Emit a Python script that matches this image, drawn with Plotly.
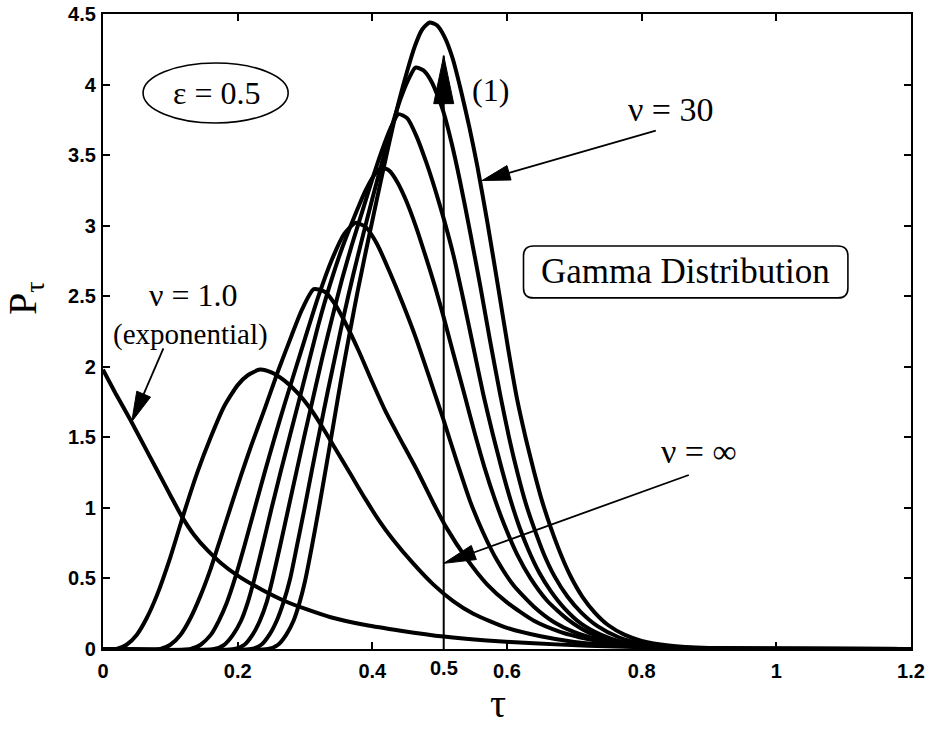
import plotly.graph_objects as go

# ---------------- data ----------------
# nu = 1.0 (exponential)
tau_nu1 = [0, 0.02, 0.04, 0.06, 0.08, 0.1, 0.117, 0.135, 0.155, 0.175, 0.2, 0.236, 0.27, 0.303, 0.338, 0.39, 0.442, 0.506, 0.57, 0.64, 0.72, 0.8, 0.9, 1.0, 1.2]
p_nu1 = [1.98, 1.8, 1.63, 1.45, 1.27, 1.09, 0.94, 0.81, 0.7, 0.61, 0.52, 0.42, 0.34, 0.28, 0.225, 0.17, 0.13, 0.088, 0.06, 0.04, 0.023, 0.013, 0.006, 0.003, 0.0005]

tau_c2 = [0, 0.02, 0.035, 0.05, 0.065, 0.08, 0.1, 0.12, 0.14, 0.16, 0.18, 0.2, 0.215, 0.233, 0.25, 0.27, 0.29, 0.31, 0.33, 0.35, 0.37, 0.39, 0.41, 0.43, 0.46, 0.49, 0.52, 0.55, 0.6, 0.65, 0.7, 0.75, 0.8, 0.9, 1.0, 1.2]
p_c2 = [0, 0, 0.03, 0.1, 0.22, 0.38, 0.65, 0.96, 1.25, 1.5, 1.72, 1.87, 1.94, 1.98, 1.96, 1.9, 1.81, 1.69, 1.54, 1.38, 1.22, 1.06, 0.91, 0.78, 0.61, 0.46, 0.34, 0.25, 0.15, 0.09, 0.05, 0.028, 0.015, 0.004, 0.001, 0]

tau_c3 = [0, 0.085, 0.1, 0.115, 0.13, 0.145, 0.16, 0.175, 0.19, 0.205, 0.22, 0.24, 0.26, 0.28, 0.295, 0.313, 0.33, 0.345, 0.36, 0.38, 0.4, 0.42, 0.44, 0.466, 0.49, 0.51, 0.54, 0.57, 0.6, 0.64, 0.68, 0.72, 0.76, 0.8, 0.9, 1.0, 1.2]
p_c3 = [0, 0, 0.03, 0.1, 0.22, 0.38, 0.57, 0.79, 1.01, 1.23, 1.44, 1.7, 1.97, 2.22, 2.4, 2.55, 2.53, 2.44, 2.31, 2.11, 1.89, 1.68, 1.5, 1.27, 1.04, 0.86, 0.64, 0.46, 0.33, 0.2, 0.12, 0.07, 0.035, 0.016, 0.003, 0.001, 0]

tau_c4 = [0, 0.13, 0.145, 0.16, 0.172, 0.184, 0.196, 0.21, 0.225, 0.24, 0.255, 0.27, 0.285, 0.3, 0.32, 0.34, 0.358, 0.375, 0.39, 0.407, 0.425, 0.445, 0.465, 0.485, 0.506, 0.526, 0.545, 0.565, 0.585, 0.61, 0.64, 0.67, 0.7, 0.74, 0.8, 0.9, 1.0, 1.2]
p_c4 = [0, 0, 0.03, 0.1, 0.2, 0.33, 0.5, 0.73, 0.99, 1.25, 1.5, 1.74, 1.97, 2.2, 2.5, 2.76, 2.94, 3.02, 2.99, 2.87, 2.68, 2.45, 2.2, 1.92, 1.62, 1.32, 1.05, 0.82, 0.63, 0.45, 0.3, 0.19, 0.12, 0.065, 0.025, 0.004, 0.001, 0]

tau_c5 = [0, 0.165, 0.18, 0.193, 0.205, 0.215, 0.225, 0.237, 0.25, 0.263, 0.277, 0.29, 0.305, 0.32, 0.337, 0.355, 0.373, 0.39, 0.403, 0.414, 0.425, 0.437, 0.45, 0.465, 0.48, 0.493, 0.506, 0.52, 0.537, 0.552, 0.567, 0.582, 0.596, 0.615, 0.635, 0.66, 0.69, 0.72, 0.76, 0.8, 0.85, 0.95, 1.2]
p_c5 = [0, 0, 0.03, 0.1, 0.2, 0.33, 0.5, 0.73, 0.99, 1.24, 1.5, 1.74, 2.02, 2.3, 2.58, 2.84, 3.06, 3.25, 3.36, 3.41, 3.39, 3.31, 3.18, 2.99, 2.77, 2.57, 2.35, 2.1, 1.8, 1.53, 1.28, 1.06, 0.88, 0.67, 0.5, 0.34, 0.21, 0.12, 0.055, 0.024, 0.008, 0.001, 0]

tau_c6 = [0, 0.195, 0.21, 0.222, 0.233, 0.243, 0.252, 0.263, 0.275, 0.287, 0.3, 0.313, 0.326, 0.34, 0.355, 0.37, 0.385, 0.4, 0.414, 0.427, 0.439, 0.452, 0.465, 0.48, 0.493, 0.506, 0.52, 0.535, 0.55, 0.565, 0.579, 0.592, 0.605, 0.618, 0.632, 0.648, 0.665, 0.685, 0.71, 0.74, 0.77, 0.8, 0.85, 0.9, 1.0, 1.2]
p_c6 = [0, 0, 0.03, 0.1, 0.2, 0.33, 0.5, 0.73, 0.99, 1.25, 1.53, 1.8, 2.07, 2.34, 2.62, 2.87, 3.1, 3.33, 3.53, 3.69, 3.79, 3.76, 3.64, 3.45, 3.26, 3.05, 2.8, 2.48, 2.14, 1.8, 1.52, 1.28, 1.06, 0.87, 0.7, 0.54, 0.41, 0.29, 0.18, 0.1, 0.05, 0.026, 0.008, 0.003, 0.0005, 0]

tau_c7 = [0, 0.22, 0.235, 0.247, 0.258, 0.268, 0.278, 0.288, 0.299, 0.31, 0.322, 0.334, 0.346, 0.358, 0.371, 0.385, 0.4, 0.415, 0.43, 0.442, 0.453, 0.464, 0.476, 0.488, 0.497, 0.506, 0.518, 0.53, 0.545, 0.56, 0.575, 0.59, 0.603, 0.616, 0.628, 0.64, 0.655, 0.67, 0.69, 0.71, 0.735, 0.765, 0.8, 0.85, 0.9, 1.0, 1.2]
p_c7 = [0, 0, 0.03, 0.1, 0.2, 0.33, 0.5, 0.73, 0.99, 1.26, 1.55, 1.83, 2.1, 2.37, 2.64, 2.91, 3.19, 3.46, 3.72, 3.9, 4.03, 4.12, 4.1, 4.02, 3.92, 3.8, 3.58, 3.32, 2.96, 2.58, 2.18, 1.8, 1.5, 1.24, 1.03, 0.86, 0.67, 0.52, 0.37, 0.26, 0.16, 0.085, 0.038, 0.012, 0.004, 0.0005, 0]

# nu = 30
tau_nu30 = [0, 0.245, 0.26, 0.272, 0.283, 0.292, 0.3, 0.31, 0.32, 0.331, 0.3425, 0.354, 0.366, 0.378, 0.39, 0.402, 0.415, 0.428, 0.44, 0.452, 0.463, 0.474, 0.485, 0.496, 0.507, 0.519, 0.531, 0.544, 0.556, 0.571, 0.587, 0.602, 0.615, 0.628, 0.64, 0.652, 0.665, 0.68, 0.695, 0.712, 0.73, 0.75, 0.775, 0.8, 0.84, 0.9, 1.0, 1.2]
p_nu30 = [0, 0, 0.03, 0.1, 0.2, 0.33, 0.48, 0.72, 0.98, 1.28, 1.6, 1.92, 2.23, 2.53, 2.81, 3.08, 3.37, 3.65, 3.89, 4.1, 4.27, 4.39, 4.44, 4.42, 4.34, 4.19, 3.97, 3.7, 3.42, 3.02, 2.56, 2.12, 1.77, 1.49, 1.26, 1.05, 0.86, 0.67, 0.51, 0.37, 0.26, 0.17, 0.1, 0.058, 0.025, 0.007, 0.001, 0]

# nu = infinity (delta at the mean)
tau_inf = [0.506, 0.506]
p_inf = [0.0, 4.205]

x_ticks = [0, 0.2, 0.4, 0.6, 0.8, 1, 1.2]
x_ticktext = ["0", "0.2", "0.4", "0.6", "0.8", "1", "1.2"]
y_ticks = [0, 0.5, 1, 1.5, 2, 2.5, 3, 3.5, 4, 4.5]
y_ticktext = ["0", "0.5", "1", "1.5", "2", "2.5", "3", "3.5", "4", "4.5"]

# ---------------- figure ----------------
W, H = 930, 729
ML, MR, MT, MB = 103, 19, 14, 80
XR = [0, 1.2]
YR = [0, 4.5]
SX = (W - ML - MR) / (XR[1] - XR[0])
SY = (H - MT - MB) / (YR[1] - YR[0])

SERIF = "Liberation Serif, Times New Roman, serif"
SANS = "Liberation Sans, Arial, sans-serif"

fig = go.Figure()
curves = [(tau_nu1, p_nu1), (tau_c2, p_c2), (tau_c3, p_c3), (tau_c4, p_c4),
          (tau_c5, p_c5), (tau_c6, p_c6), (tau_c7, p_c7), (tau_nu30, p_nu30)]
for tx, py in curves:
    fig.add_trace(go.Scatter(x=tx, y=py, mode="lines",
                             line=dict(color="black", width=4, shape="spline", smoothing=0.6),
                             showlegend=False, hoverinfo="skip"))
fig.add_trace(go.Scatter(x=tau_inf, y=p_inf, mode="lines",
                         line=dict(color="black", width=2), showlegend=False, hoverinfo="skip"))

shapes = []


def arrow(tail, tip, L, Wd, lw=1.8, shaft=True):
    dx = (tip[0] - tail[0]) * SX
    dy = (tip[1] - tail[1]) * SY
    n = (dx * dx + dy * dy) ** 0.5
    ux, uy = dx / n, dy / n
    bx = tip[0] * SX - ux * L
    by = tip[1] * SY - uy * L
    nx, ny = -uy, ux
    p1 = ((bx + nx * Wd / 2) / SX, (by + ny * Wd / 2) / SY)
    p2 = ((bx - nx * Wd / 2) / SX, (by - ny * Wd / 2) / SY)
    if shaft:
        shapes.append(dict(type="line", xref="x", yref="y", x0=tail[0], y0=tail[1],
                           x1=bx / SX, y1=by / SY, line=dict(color="black", width=lw)))
    shapes.append(dict(type="path", xref="x", yref="y",
                       path=f"M {tip[0]},{tip[1]} L {p1[0]},{p1[1]} L {p2[0]},{p2[1]} Z",
                       fillcolor="black", line=dict(color="black", width=1)))


# arrows
arrow((0.0897, 2.13), (0.0427, 1.611), 30, 15)
arrow((0.821, 3.673), (0.563, 3.32), 28, 15)
arrow((0.870, 1.233), (0.506, 0.607), 32, 15)
arrow((tau_inf[0], 3.5), (tau_inf[0], p_inf[1]), 48, 20, shaft=False)

# ellipse around epsilon
shapes.append(dict(type="circle", xref="x", yref="y", x0=0.0595, x1=0.275, y0=3.728, y1=4.153,
                   line=dict(color="black", width=1.6)))

# rounded box around "Gamma Distribution"
bx0, bx1, by0, by1 = 0.6245, 1.1063, 2.488, 2.856
rx, ry = 10 / SX, 10 / SY
path = (f"M {bx0 + rx},{by1} L {bx1 - rx},{by1} Q {bx1},{by1} {bx1},{by1 - ry} "
        f"L {bx1},{by0 + ry} Q {bx1},{by0} {bx1 - rx},{by0} L {bx0 + rx},{by0} "
        f"Q {bx0},{by0} {bx0},{by0 + ry} L {bx0},{by1 - ry} Q {bx0},{by1} {bx0 + rx},{by1} Z")
shapes.append(dict(type="path", xref="x", yref="y", path=path, line=dict(color="black", width=1.6)))

annotations = [
    dict(x=0.169, y=3.94, text="ε = 0.5", font=dict(size=32)),
    dict(x=0.134, y=2.509, text="ν = 1.0", font=dict(size=32)),
    dict(x=0.130, y=2.232, text="(exponential)", font=dict(size=29)),
    dict(x=0.575, y=3.96, text="(1)", font=dict(size=32)),
    dict(x=0.843, y=3.82, text="ν = 30", font=dict(size=34)),
    dict(x=0.865, y=2.672, text="Gamma Distribution", font=dict(size=35)),
    dict(x=0.885, y=1.398, text="ν = ∞", font=dict(size=34)),
]
for a in annotations:
    a.update(xref="x", yref="y", showarrow=False, xanchor="center", yanchor="middle")
    a["font"].update(family=SERIF, color="black")

# extra tick label at the delta position
annotations.append(dict(x=tau_inf[0], xref="x", y=-19 / (H - MT - MB), yref="paper", text="0.5",
                        showarrow=False, xanchor="center", yanchor="middle",
                        font=dict(family=SANS, size=20, color="black", weight="bold")))
# axis titles
annotations.append(dict(x=(498 - ML) / SX, xref="x", y=(H - MB - 728) / (H - MT - MB), yref="paper",
                        text="τ", showarrow=False, xanchor="center", yanchor="bottom",
                        font=dict(family=SERIF, size=40, color="black")))
annotations.append(dict(x=(25 - ML) / (W - ML - MR), xref="paper", y=(H - MB - 298) / (H - MT - MB),
                        yref="paper", text="P<sub>τ</sub>", textangle=-90, showarrow=False,
                        xanchor="center", yanchor="middle",
                        font=dict(family=SERIF, size=40, color="black")))

axis_common = dict(showgrid=False, zeroline=False, showline=True, linecolor="black", linewidth=2.2,
                   mirror="ticks", ticks="inside", ticklen=7, tickwidth=1.5, tickcolor="black",
                   automargin=False,
                   tickfont=dict(family=SANS, size=20, color="black", weight="bold"))

fig.update_layout(
    width=W, height=H,
    margin=dict(l=ML, r=MR, t=MT, b=MB, pad=0, autoexpand=False),
    paper_bgcolor="white", plot_bgcolor="white",
    xaxis=dict(range=XR, tickvals=x_ticks, ticktext=x_ticktext, ticklabelstandoff=3, **axis_common),
    yaxis=dict(range=YR, tickvals=y_ticks, ticktext=y_ticktext, ticklabelstandoff=1, **axis_common),
    shapes=shapes, annotations=annotations, showlegend=False,
)

fig.write_html("out.html")
